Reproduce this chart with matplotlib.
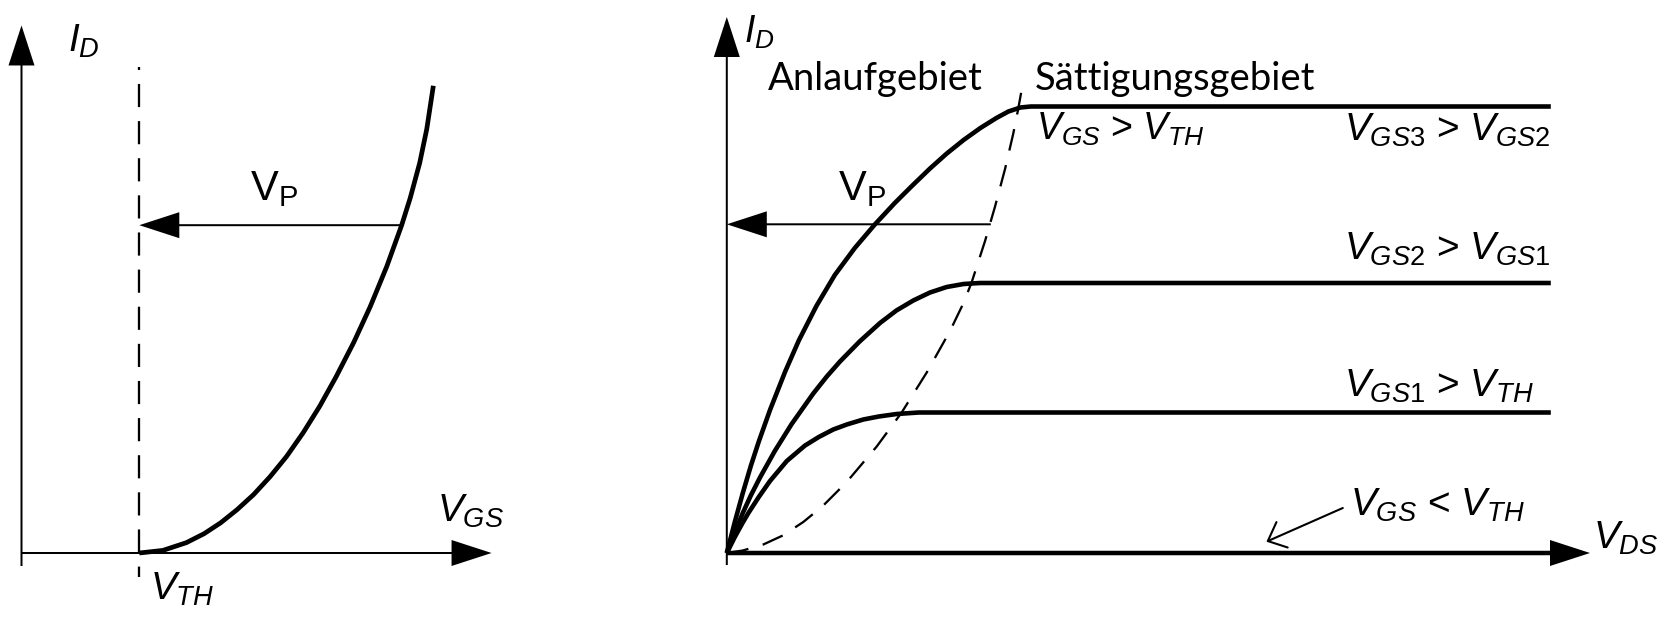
import matplotlib
matplotlib.use("Agg")
import matplotlib.pyplot as plt

plt.rcParams["mathtext.fontset"] = "custom"
plt.rcParams["mathtext.it"] = "Liberation Sans:italic"
plt.rcParams["mathtext.rm"] = "Liberation Sans"
plt.rcParams["mathtext.sf"] = "Liberation Sans"
plt.rcParams["font.family"] = ["Liberation Sans", "DejaVu Sans"]

# left diagram: transfer characteristic, V_TH = 1
v_th = 1.0
vgs = [1.0, 1.2, 1.4, 1.55, 1.69, 1.83, 1.97, 2.11, 2.25, 2.39, 2.53, 2.67,
       2.82, 2.96, 3.10, 3.227, 3.30, 3.38, 3.44, 3.496]
id_transfer = [0.0, 0.055, 0.22, 0.41, 0.64, 0.92, 1.24, 1.62, 2.05, 2.55,
               3.11, 3.74, 4.47, 5.23, 6.08, 6.96, 7.54, 8.28, 9.0, 9.92]
vp_left = 6.96          # level of the V_P arrow
vp_left_start = 3.227
vgs_axis_end = 3.99
id_axis_end_left = 11.2

# right diagram: output characteristics
vds_1 = [0, 0.1, 0.2, 0.27, 0.4, 0.54, 0.75, 0.978, 1.15, 1.331, 1.5, 1.706,
         1.9, 2.124, 2.4, 10.3]
id_1 = [0, 0.32, 0.61, 0.80, 1.12, 1.44, 1.84, 2.15, 2.32, 2.47, 2.57, 2.67,
        2.73, 2.78, 2.81, 2.81]
vds_2 = [0, 0.1, 0.2, 0.3, 0.415, 0.6, 0.811, 1.081, 1.25, 1.415, 1.66, 1.915,
         2.12, 2.331, 2.54, 2.749, 2.96, 3.165, 10.3]
id_2 = [0, 0.41, 0.80, 1.15, 1.51, 2.04, 2.58, 3.19, 3.53, 3.83, 4.23, 4.60,
        4.85, 5.05, 5.21, 5.32, 5.38, 5.40, 5.40]
vds_3 = [0, 0.1, 0.2, 0.3, 0.4, 0.54, 0.73, 0.9, 1.12, 1.35, 1.6, 1.85, 2.1,
         2.32, 2.54, 2.75, 2.96, 3.17, 3.37, 3.52, 3.67, 3.8, 10.3]
id_3 = [0, 0.62, 1.20, 1.74, 2.23, 2.86, 3.63, 4.25, 4.94, 5.56, 6.10, 6.57,
        7.00, 7.35, 7.69, 7.99, 8.26, 8.50, 8.70, 8.83, 8.91, 8.93, 8.93]
# boundary between Anlauf- and Saettigungsgebiet
vds_sat = [0, 0.2, 0.456, 0.7, 0.956, 1.2, 1.499, 1.874, 2.186, 2.499, 2.79,
           2.956, 3.06, 3.228, 3.353, 3.478, 3.581, 3.64, 3.70]
id_sat = [0, 0.05, 0.17, 0.35, 0.62, 0.94, 1.42, 2.13, 2.81, 3.61, 4.44,
          4.99, 5.41, 6.24, 6.93, 7.68, 8.39, 8.86, 9.39]
vp_right = 6.574
vp_right_start = 3.30
vds_axis_end = 10.79
id_axis_end_right = 10.72

labels_right = [r"$V_{GS3}$ > $V_{GS2}$", r"$V_{GS2}$ > $V_{GS1}$",
                r"$V_{GS1}$ > $V_{TH}$"]
label_levels = [8.24, 5.86, 3.12]

PX = 0.72  # points per pixel at dpi 100


def arrow(ax, tail, tip, lw_px=2.0, head_len=40, head_w=26):
    ax.annotate("", xy=tip, xytext=tail,
                arrowprops=dict(width=lw_px * PX, headwidth=head_w * PX,
                                headlength=head_len * PX, shrink=0,
                                facecolor="black", edgecolor="none", lw=0))


fig = plt.figure(figsize=(16.77, 6.22), dpi=100)

# ---- left ----
ax1 = fig.add_axes([0, 0, 560 / 1677, 1])
ax1.set_xlim(-0.1825, 4.571)
ax1.set_ylim(-1.465, 11.741)
ax1.set_axis_off()

arrow(ax1, (0, -0.276), (0, id_axis_end_left))
arrow(ax1, (0, 0), (vgs_axis_end, 0))
ax1.plot([v_th, v_th], [10.32, -0.51], color="black", lw=1.65,
         linestyle=(8.8, (10.1, 6.1)))
ax1.plot(vgs, id_transfer, color="black", lw=3.4, solid_capstyle="butt",
         solid_joinstyle="round")
arrow(ax1, (vp_left_start, vp_left), (v_th, vp_left))

ax1.text(0.395, 10.64, r"$I_D$", fontsize=28, va="baseline")
ax1.text(1.94, 7.49, r"$\mathsf{V}_\mathsf{P}$", fontsize=30, va="baseline")
ax1.text(3.531, 0.665, r"$V_{GS}$", fontsize=28, va="baseline")
ax1.text(1.091, -0.998, r"$V_{TH}$", fontsize=28, va="baseline")

# ---- right ----
ax2 = fig.add_axes([560 / 1677, 0, 1117 / 1677, 1])
ax2.set_xlim(-2.085, 11.8775)
ax2.set_ylim(-1.38, 11.06)
ax2.set_axis_off()

arrow(ax2, (0, -0.24), (0, id_axis_end_right))
arrow(ax2, (0, 0), (vds_axis_end, 0), lw_px=4.5)

for vx, iy in [(vds_1, id_1), (vds_2, id_2), (vds_3, id_3)]:
    ax2.plot(vx, iy, color="black", lw=3.3, solid_capstyle="butt",
             solid_joinstyle="round")
ax2.plot(vds_sat, id_sat, color="black", lw=1.65, linestyle=(0, (9.6, 6.5)))
arrow(ax2, (vp_right_start, vp_right), (0, vp_right))

ax2.annotate("", xy=(6.745, 0.226), xytext=(7.70, 0.90),
             arrowprops=dict(arrowstyle="->,head_length=1.12,head_width=1.0",
                             mutation_scale=10, lw=1.5, color="black",
                             shrinkA=0, shrinkB=0))

ax2.text(0.22, 10.2, r"$I_D$", fontsize=27, va="baseline")
ax2.text(0.5075, 9.26, "Anlaufgebiet", fontsize=27.5, family="Lato",
         va="baseline")
ax2.text(3.845, 9.26, "Sättigungsgebiet", fontsize=27.5, family="Lato",
         va="baseline")
ax2.text(3.865, 8.26, r"$V_{GS}$ > $V_{TH}$", fontsize=27, va="baseline")
ax2.text(1.39, 7.06, r"$\mathsf{V}_\mathsf{P}$", fontsize=30, va="baseline")
for lab, lev in zip(labels_right, label_levels):
    ax2.text(7.715, lev, lab, fontsize=28, va="baseline")
ax2.text(7.79, 0.74, r"$V_{GS}$ < $V_{TH}$", fontsize=28, va="baseline")
ax2.text(10.83, 0.094, r"$V_{DS}$", fontsize=28, va="baseline")

fig.savefig("out.png", dpi=100)
